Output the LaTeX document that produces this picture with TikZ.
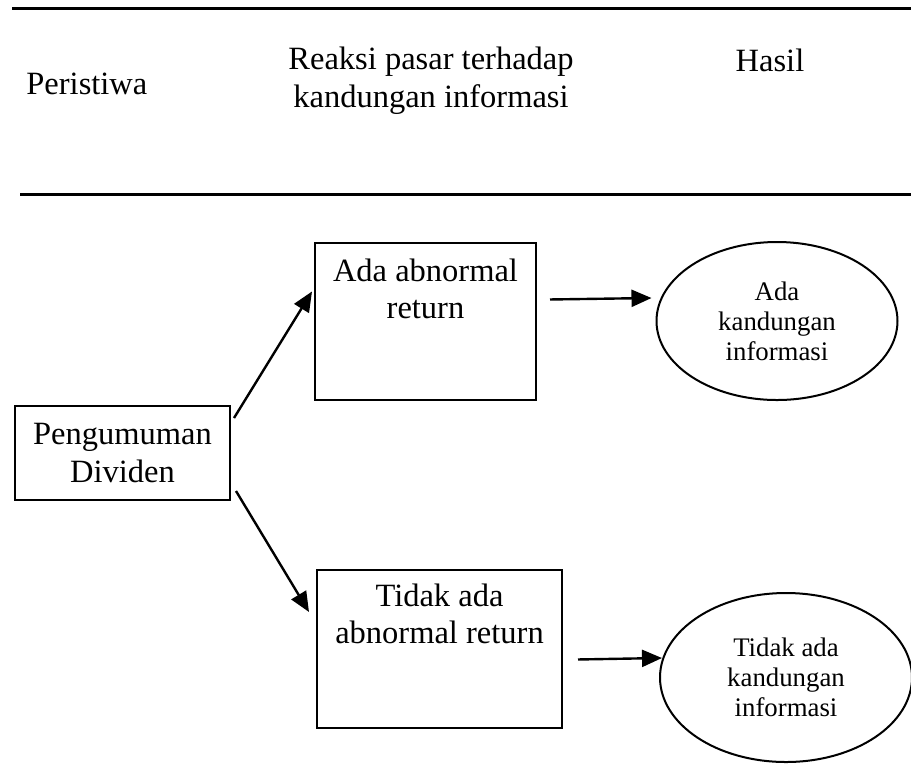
\documentclass[tikz,border=0pt]{standalone}
\usepackage{fontspec}
\setmainfont{Liberation Serif}
\usetikzlibrary{arrows.meta,shapes.geometric}

\newcommand{\bigtxt}{\fontsize{16.25pt}{18.7pt}\selectfont}
\newcommand{\elltxt}{\fontsize{13.4pt}{15pt}\selectfont}

\begin{document}
\begin{tikzpicture}[
    x=0.5pt, y=-0.5pt,
    >=Latex,
    head/.style={inner sep=0pt, font=\bigtxt, align=center},
    rbox/.style={draw, line width=1pt, align=center, font=\bigtxt, inner xsep=0pt},
    oval/.style={draw, ellipse, line width=1pt, inner sep=0pt, align=center, font=\elltxt},
    arr/.style={-{Triangle[length=10pt, width=8.5pt]}, line width=1.2pt},
    rule/.style={line width=1.5pt}
]
    \useasboundingbox (0,0) rectangle (911,773);

    % header
    \draw[rule] (12,8) -- (911,8);
    \draw[rule] (20,194) -- (911,194);
    \node[head, anchor=base west] (hperistiwa) at (26,94) {Peristiwa};
    \node[head, anchor=north] (hreaksi) at (431,47) {Reaksi pasar terhadap\\kandungan informasi};
    \node[head, anchor=base] (hhasil) at (770,71) {Hasil};

    % boxes
    \node[rbox, minimum width=107.5pt, minimum height=47pt] (peng) at (122.5,453) {Pengumuman\\Dividen};
    \node[rbox, anchor=north, minimum width=110.5pt, inner ysep=8pt, text depth=32.5pt] (ada) at (425.5,242) {Ada abnormal\\return};
    \node[rbox, anchor=north, minimum width=122.5pt, inner ysep=7pt, text depth=35pt] (tidak) at (439.5,569) {Tidak ada\\abnormal return};

    % results
    \node[oval, minimum width=120.5pt, minimum height=79pt] (hasilada) at (777,321) {Ada\\kandungan\\informasi};
    \node[oval, minimum width=126pt, minimum height=84.5pt] (hasiltidak) at (786,677.5) {Tidak ada\\kandungan\\informasi};

    \draw[arr] ([shift={(3,13)}]peng.north east) -- ([shift={(-2,-30)}]ada.west);
    \draw[arr] ([shift={(5,-10)}]peng.south east) -- ([shift={(-7,-37)}]tidak.west);
    \draw[arr] ([shift={(13,-22)}]ada.east) -- ([shift={(-4,-23)}]hasilada.west);
    \draw[arr] ([shift={(15,10.5)}]tidak.east) -- ([shift={(3,-19.5)}]hasiltidak.west);
\end{tikzpicture}
\end{document}
